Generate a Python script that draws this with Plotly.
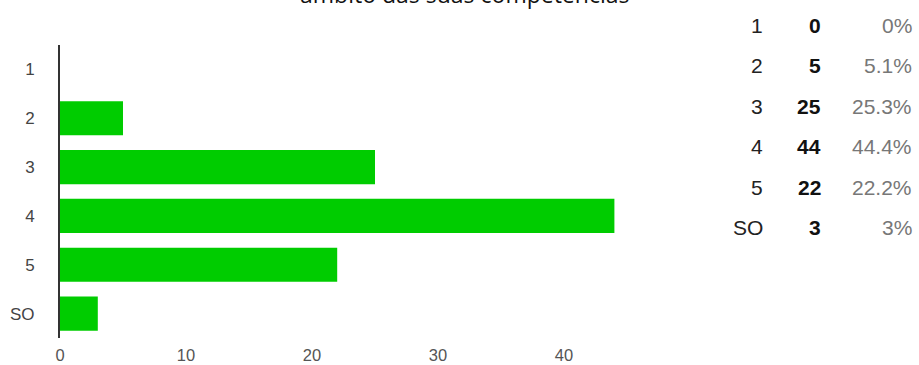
import plotly.graph_objects as go

categories = ["1", "2", "3", "4", "5", "SO"]
counts = [0, 5, 25, 44, 22, 3]
percents = ["0%", "5.1%", "25.3%", "44.4%", "22.2%", "3%"]
x_ticks = [0, 10, 20, 30, 40]
title_text = "âmbito das suas competências"

W, H = 919, 365
L, T = 60, 45
B = H - 338
R = W - 627
PW = W - L - R
PH = H - T - B

def px_x(px):
    return (px - L) / PW

def px_y(py):
    return 1 - (py - T) / PH

fig = go.Figure(go.Bar(
    y=categories, x=counts, orientation="h",
    marker=dict(color="#00cc00", line=dict(width=0)),
    hoverinfo="skip",
))

annotations = []
row_y = [25, 66, 106, 146, 187, 227]
for cat, cnt, pct, yy in zip(categories, counts, percents, row_y):
    annotations.append(dict(x=px_x(765), y=px_y(yy), xref="paper", yref="paper",
                            text=cat, showarrow=False, xanchor="right", yanchor="middle",
                            font=dict(family="Liberation Sans", size=21, color="#222")))
    annotations.append(dict(x=px_x(823), y=px_y(yy), xref="paper", yref="paper",
                            text="<b>%d</b>" % cnt, showarrow=False, xanchor="right", yanchor="middle",
                            font=dict(family="Liberation Sans", size=21, color="#111")))
    annotations.append(dict(x=px_x(914), y=px_y(yy), xref="paper", yref="paper",
                            text=pct, showarrow=False, xanchor="right", yanchor="middle",
                            font=dict(family="Liberation Sans", size=21, color="#777")))

annotations.append(dict(x=px_x(464), y=px_y(-6), xref="paper", yref="paper",
                        text=title_text, showarrow=False, xanchor="center", yanchor="middle",
                        font=dict(family="Open Sans", size=23, color="#111")))

fig.update_layout(
    width=W, height=H,
    margin=dict(l=L, r=R, t=T, b=B, autoexpand=False),
    paper_bgcolor="white", plot_bgcolor="white",
    showlegend=False,
    bargap=0.3,
    annotations=annotations,
    xaxis=dict(range=[0, 45], tickvals=x_ticks, showgrid=False, zeroline=False,
               showline=False, tickfont=dict(family="Liberation Sans", size=16.5, color="#555"),
               ticks="", ticklabelstandoff=5, fixedrange=True, automargin=False),
    yaxis=dict(categoryorder="array", categoryarray=categories, autorange="reversed",
               showgrid=False, zeroline=False, showline=True, linecolor="#333", linewidth=2,
               tickfont=dict(family="Liberation Sans", size=17, color="#444"),
               ticks="", ticklabelstandoff=20, fixedrange=True, automargin=False),
)

fig.write_html("out.html", config={"displayModeBar": False, "staticPlot": True},
               post_script="document.body.style.margin='0';document.body.style.overflow='hidden';")
